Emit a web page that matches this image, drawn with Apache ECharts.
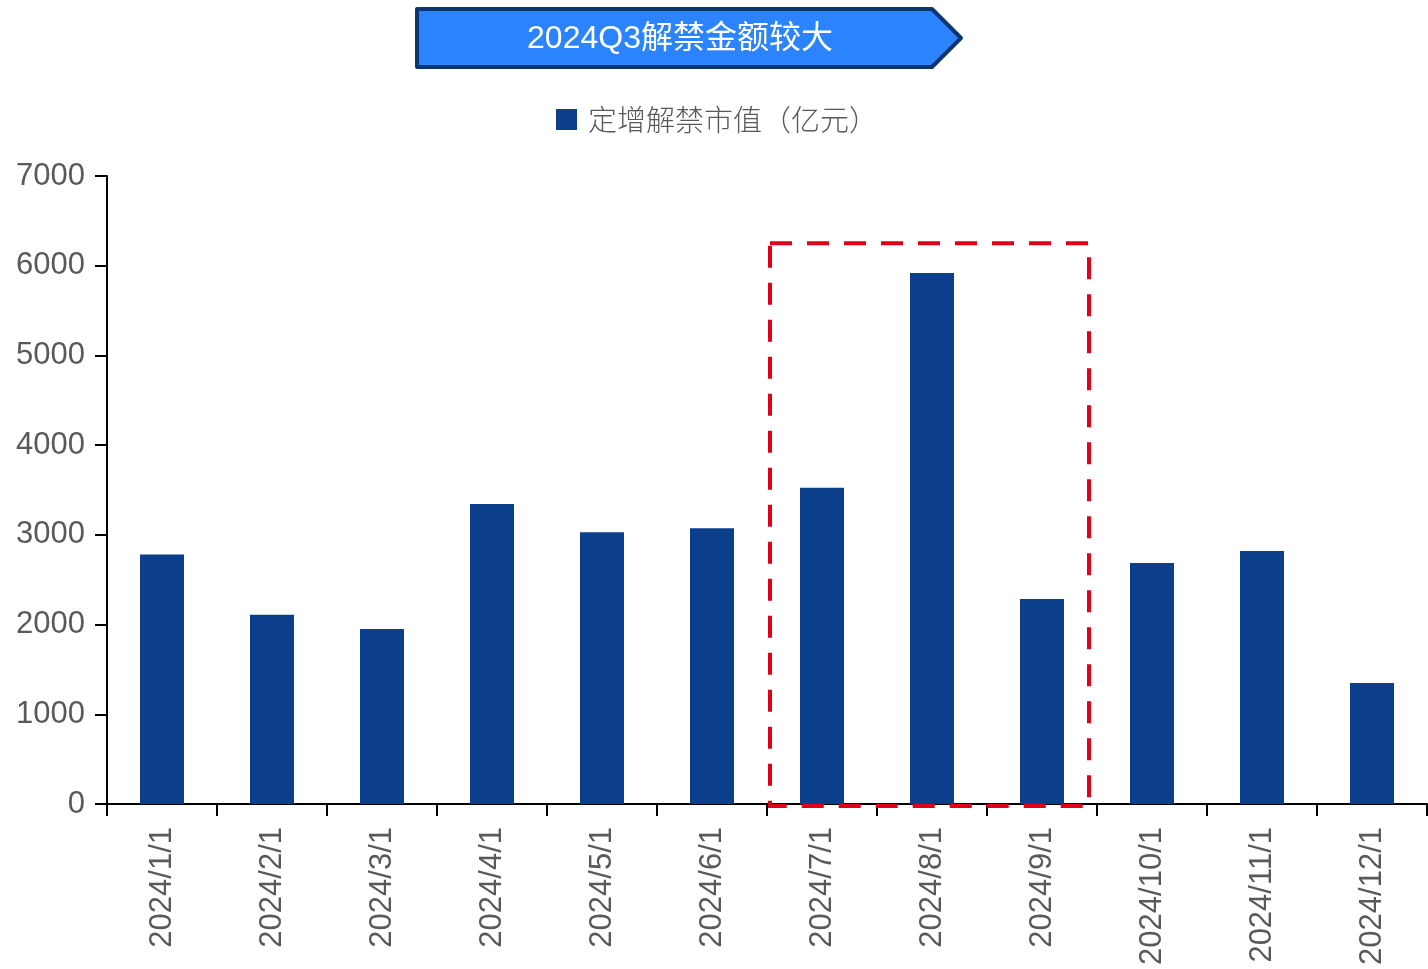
<!DOCTYPE html>
<html><head><meta charset="utf-8">
<script src="https://cdn.jsdelivr.net/npm/echarts@6/dist/echarts.min.js"></script>
<style>html,body{margin:0;padding:0;background:#fff}#c{width:1428px;height:969px}</style>
</head><body><div id="c"></div>
<script>
const categories = ['2024/1/1','2024/2/1','2024/3/1','2024/4/1','2024/5/1','2024/6/1','2024/7/1','2024/8/1','2024/9/1','2024/10/1','2024/11/1','2024/12/1'];
const values = [2780, 2110, 1950, 3345, 3030, 3075, 3525, 5920, 2285, 2685, 2820, 1350];
const seriesName = '定增解禁市值（亿元）';
const titleText = '2024Q3解禁金额较大';
const highlightFrom = '2024/7/1';
const highlightTo = '2024/9/1';
const highlightTop = 6250;

const chart = echarts.init(document.getElementById('c'));
const labelColor = '#595959';
chart.setOption({
  animation: false,
  backgroundColor: '#fff',
  grid: {left: 107, right: 1, top: 176, bottom: 165, containLabel: false},
  legend: {
    data: [seriesName], left: 556, top: 105, padding: 0, icon: 'rect', itemWidth: 21, itemHeight: 21, itemGap: 12,
    textStyle: {color: labelColor, fontSize: 29, fontFamily: 'Noto Sans CJK SC', fontWeight: 300, padding: [0, 0, 0, 6]}
  },
  xAxis: {
    type: 'category', data: categories,
    axisLine: {lineStyle: {color: '#000', width: 2}},
    axisTick: {show: true, length: 12, lineStyle: {color: '#000', width: 2}},
    axisLabel: {rotate: 90, margin: 23, color: labelColor, fontSize: 31, fontFamily: 'Liberation Sans, Arial'}
  },
  yAxis: {
    type: 'value', min: 0, max: 7000, interval: 1000,
    splitLine: {show: false},
    axisLine: {show: true, lineStyle: {color: '#000', width: 2}},
    axisTick: {show: true, length: 12, lineStyle: {color: '#000', width: 2}},
    axisLabel: {margin: 22, color: labelColor, fontSize: 31, fontFamily: 'Liberation Sans, Arial', formatter: v => String(v)}
  },
  series: [{
    name: seriesName, type: 'bar', data: values, barWidth: '40%',
    itemStyle: {color: '#0c3f8b'}
  }]
});

function drawGraphics() {
  const l = chart.convertToPixel({seriesIndex: 0}, [highlightFrom, 0]);
  const r = chart.convertToPixel({seriesIndex: 0}, [highlightTo, highlightTop]);
  const x0 = l[0] - 52, x1 = r[0] + 47, y0 = r[1], y1 = l[1] + 2;
  chart.setOption({
    graphic: [
      {
        type: 'polygon', z: 10,
        shape: {points: [[417, 9], [932, 9], [961, 38], [932, 67], [417, 67]]},
        style: {fill: '#2b84fd', stroke: '#0d3670', lineWidth: 4, lineJoin: 'round'}
      },
      {
        type: 'text', z: 11, x: 680, y: 39,
        style: {text: titleText, fill: '#fff', fontSize: 32, fontFamily: 'Liberation Sans, Noto Sans CJK SC', align: 'center', verticalAlign: 'middle'}
      },
      {
        type: 'rect', z: 12,
        shape: {x: x0, y: y0, width: x1 - x0, height: y1 - y0},
        style: {fill: 'none', stroke: '#e00018', lineWidth: 4, lineDash: [22, 15]}
      }
    ]
  });
}
drawGraphics();
</script>
</body></html>
